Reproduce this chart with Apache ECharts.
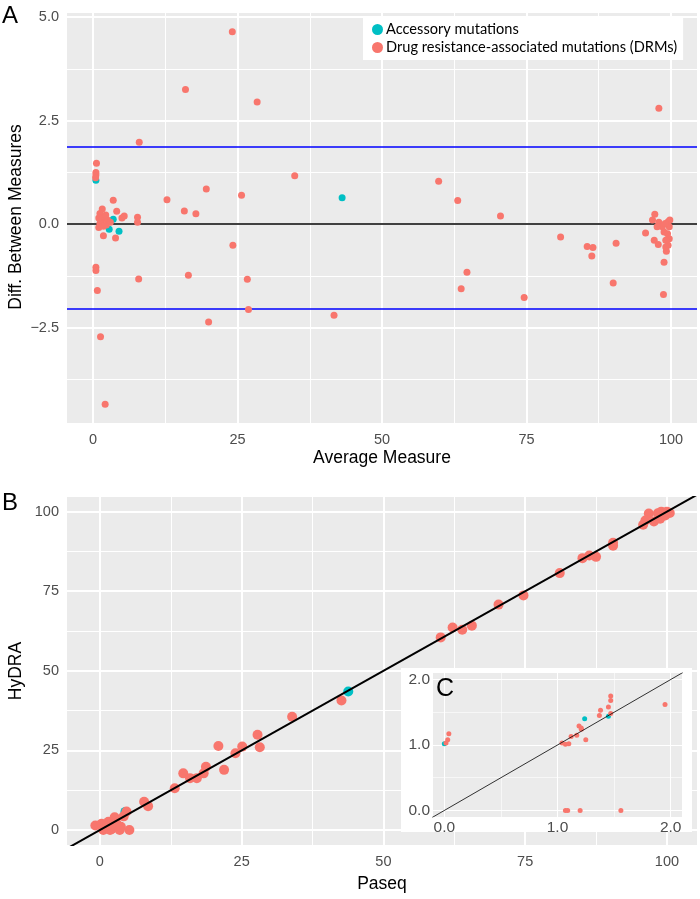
<!DOCTYPE html>
<html><head><meta charset="utf-8">
<script src="https://cdn.jsdelivr.net/npm/echarts@6/dist/echarts.min.js"></script>
<style>html,body{margin:0;padding:0;background:#fff}#c{width:700px;height:899px}</style>
</head><body><div id="c"></div>
<script>
// ---------- DATA ----------
const seriesNames = ['Accessory mutations', 'Drug resistance-associated mutations (DRMs)'];
const colAcc = '#00BFC4', colDrm = '#F8766D';

// Panel A: Bland-Altman (average vs difference)
const aAccX = [0.5, 3.5, 4.5, 2.8, 43.1];
const aAccY = [1.06, 0.12, -0.17, -0.12, 0.64];
const aDrmX = [24.1, 16.0, 28.4, 8.0, 0.6, 0.5, 0.5, 0.45, 34.9, 25.7, 19.6, 12.8, 15.8, 17.8, 3.5, 4.1, 5.4, 5.0, 7.7, 7.7,
  1.6, 1.2, 1.0, 1.5, 2.0, 2.5, 1.2, 1.8, 2.3, 3.0, 1.0, 2.2, 1.8, 3.9, 24.2, 0.5, 0.5, 7.9, 16.5, 26.7,
  0.75, 26.9, 41.7, 20.0, 1.3, 2.1, 97.9, 59.8, 63.1, 70.5, 97.2, 80.9, 85.5, 86.5, 86.3, 90.5, 64.7, 63.7, 74.6, 90.0,
  98.7, 98.8, 95.6, 97.1, 97.8, 96.8, 97.9, 99.5, 99.7, 99.4, 99.7, 99.5, 99.2, 98.5, 97.6, 98.8, 99.1, 99.1, 99.8, 99.0];
const aDrmY = [4.65, 3.25, 2.95, 1.98, 1.47, 1.25, 1.19, 1.12, 1.17, 0.70, 0.85, 0.59, 0.32, 0.25, 0.58, 0.31, 0.20, 0.15, 0.17, 0.05,
  0.37, 0.26, 0.15, 0.10, 0.18, 0.10, 0.02, -0.05, -0.02, 0.05, -0.08, 0.22, -0.28, -0.33, -0.51, -1.04, -1.12, -1.32, -1.23, -1.33,
  -1.60, -2.06, -2.20, -2.36, -2.72, -4.35, 2.80, 1.04, 0.57, 0.20, 0.24, -0.31, -0.54, -0.56, -0.77, -0.46, -1.16, -1.56, -1.77, -1.42,
  -1.70, -0.92, -0.21, -0.39, -0.49, 0.10, 0.05, 0.06, -0.06, -0.23, -0.35, -0.51, -0.65, -0.06, -0.06, -0.19, -0.39, -0.55, 0.10, 0.02];
const aMeanLine = 0;
const aLimitLines = [1.86, -2.05];

// Panel B: Paseq vs HyDRA
const bAccX = [43.8, 4.5];
const bAccY = [43.5, 5.7];
const bDrmX = [-0.8, 0.3, 0.6, 1.5, 1.8, 2.1, 2.6, 2.9, 3.5, 3.7, 4.2, 4.7, 5.2, 1.2, 7.8, 8.5,
  13.2, 14.7, 15.9, 17.1, 18.3, 18.7, 20.9, 21.9, 23.9, 25.1, 27.8, 28.2, 33.9, 42.6,
  60.1, 62.2, 63.9, 65.6, 70.3, 74.7, 81.1, 85.1, 86.3, 87.5, 90.5, 90.5, 95.8, 96.8, 97.7, 98.4, 99.0, 99.5, 100.0, 100.5, 98.8, 99.7, 96.2];
const bDrmY = [1.4, 2.0, 0, 2.6, 0, 0.3, 4.0, 2.1, 0, 1.0, 4.3, 5.8, 0, 1.2, 8.9, 7.5,
  13.1, 17.8, 16.3, 16.3, 17.8, 19.9, 26.4, 18.9, 24.1, 26.2, 29.9, 26.0, 35.6, 40.7,
  60.5, 63.6, 62.9, 64.2, 70.8, 73.7, 80.7, 85.4, 86.2, 85.8, 90.2, 89.3, 95.9, 99.4, 96.9, 99.5, 100.0, 99.3, 100.0, 99.6, 97.8, 98.8, 97.2];

// Panel C: inset, low range zoom
const cAccX = [0.0, 1.24, 1.45];
const cAccY = [1.02, 1.40, 1.44];
const cDrmX = [0.015, 0.03, 0.04, 1.04, 1.07, 1.10, 1.12, 1.17, 1.19, 1.21, 1.21, 1.25, 1.37, 1.38, 1.45, 1.47, 1.47, 1.47, 1.95, 1.07, 1.09, 1.20, 1.56];
const cDrmY = [1.03, 1.08, 1.17, 1.03, 1.01, 1.02, 1.13, 1.15, 1.29, 1.24, 1.26, 1.08, 1.45, 1.53, 1.58, 1.68, 1.75, 1.48, 1.62, 0, 0, 0, 0];

// Tick values
const aXTicks = [0, 25, 50, 75, 100];
const aXMinor = [12.5, 37.5, 62.5, 87.5];
const aYTicks = [-2.5, 0, 2.5, 5.0];
const aYMinor = [-3.75, -1.25, 1.25, 3.75];
const bXTicks = [0, 25, 50, 75, 100];
const bXMinor = [12.5, 37.5, 62.5, 87.5];
const bYTicks = [0, 25, 50, 75, 100];
const bYMinor = [12.5, 37.5, 62.5, 87.5];
const cTicks = [0, 1, 2];
const cMinor = [0.5, 1.5];

// ---------- CHART ----------
const zip = (xs, ys) => xs.map((x, i) => [x, ys[i]]);
const FONT = 'Liberation Sans';
const minus = v => String(v).replace('-', '\u2212');

function gridLines(idx, xMaj, xMin, yMaj, yMin, majW, minW, zl) {
  const d = [];
  xMin.forEach(v => d.push({ xAxis: v, lineStyle: { width: minW } }));
  yMin.forEach(v => d.push({ yAxis: v, lineStyle: { width: minW } }));
  xMaj.forEach(v => d.push({ xAxis: v, lineStyle: { width: majW } }));
  yMaj.forEach(v => d.push({ yAxis: v, lineStyle: { width: majW } }));
  return {
    type: 'scatter', xAxisIndex: idx, yAxisIndex: idx, data: [[xMaj[0], yMaj[0]]], symbolSize: 0,
    silent: true, z: 1, zlevel: zl || 0,
    markLine: { silent: true, symbol: 'none', label: { show: false }, animation: false, z: 1, zlevel: zl || 0,
      lineStyle: { color: '#FFFFFF', type: 'solid' }, data: d }
  };
}

function axis(idx, min, max, ticks, fmt, opts) {
  opts = opts || {};
  return {
    gridIndex: idx, type: 'value', min: min, max: max, zlevel: opts.zlevel || 0,
    axisLine: { show: false }, splitLine: { show: false },
    axisTick: { show: opts.tick !== false, customValues: ticks, length: 4, lineStyle: { color: '#333333', width: 1 } },
    axisLabel: { customValues: ticks, color: '#4D4D4D', fontSize: opts.fs || 14.5, fontFamily: FONT,
      margin: opts.margin || 8, formatter: fmt }
  };
}
const fmt1 = v => minus(Number(v).toFixed(1));
const fmt0 = v => minus(Math.round(v));

const scatter = (name, idx, data, color, size, zl) => ({
  name: name, type: 'scatter', xAxisIndex: idx, yAxisIndex: idx, data: data, symbolSize: size,
  itemStyle: { color: color, opacity: 1 }, z: 3, zlevel: zl || 0, animation: false
});

const chart = echarts.init(document.getElementById('c'), null, { renderer: 'canvas' });
chart.setOption({
  animation: false,
  backgroundColor: '#FFFFFF',
  grid: [
    { left: 67, top: 13, width: 630, height: 410, show: true, backgroundColor: '#EBEBEB', borderWidth: 0 },
    { left: 67, top: 497, width: 630, height: 348, show: true, backgroundColor: '#EBEBEB', borderWidth: 0 },
    { left: 433, top: 673, width: 249, height: 144, show: true, backgroundColor: '#EBEBEB', borderWidth: 0, zlevel: 2 }
  ],
  xAxis: [
    axis(0, -4.5, 104.5, aXTicks, fmt0, { margin: 9 }),
    axis(1, -5.8, 105.3, bXTicks, fmt0, { margin: 9 }),
    axis(2, -0.1, 2.1, cTicks, fmt1, { tick: false, fs: 15.5, margin: 3, zlevel: 2 })
  ],
  yAxis: [
    axis(0, -4.8, 5.1, aYTicks, fmt1),
    axis(1, -4.7, 104.6, bYTicks, fmt0),
    axis(2, -0.1, 2.1, cTicks, fmt1, { tick: false, fs: 15.5, margin: 3, zlevel: 2 })
  ],
  legend: {
    data: seriesNames, orient: 'vertical', left: 363, top: 17, backgroundColor: '#FFFFFF',
    padding: [5, 6, 5, 9], itemGap: 3, itemWidth: 11, itemHeight: 11, icon: 'circle', selectedMode: false,
    textStyle: { fontFamily: 'Lato', fontSize: 14.6, color: '#000000', padding: [0, 0, 0, -2] }
  },
  graphic: [
    { type: 'rect', zlevel: 1, shape: { x: 401, y: 668, width: 291, height: 164 }, style: { fill: '#FFFFFF' }, silent: true },
    { type: 'text', left: 2, top: 4, style: { text: 'A', font: '24px Liberation Sans', fill: '#000' } },
    { type: 'text', left: 2, top: 491, style: { text: 'B', font: '24px Liberation Sans', fill: '#000' } },
    { type: 'text', zlevel: 2, z: 10, left: 436, top: 677, style: { text: 'C', font: '25px Liberation Sans', fill: '#000' } },
    { type: 'text', x: 16, y: 217, rotation: Math.PI / 2,
      style: { text: 'Diff. Between Measures', font: '17.5px Liberation Sans', fill: '#000', align: 'center', verticalAlign: 'middle' } },
    { type: 'text', x: 382, y: 458,
      style: { text: 'Average Measure', font: '17.5px Liberation Sans', fill: '#000', align: 'center', verticalAlign: 'middle' } },
    { type: 'text', x: 16, y: 671, rotation: Math.PI / 2,
      style: { text: 'HyDRA', font: '17.5px Liberation Sans', fill: '#000', align: 'center', verticalAlign: 'middle' } },
    { type: 'text', x: 382, y: 884,
      style: { text: 'Paseq', font: '17.5px Liberation Sans', fill: '#000', align: 'center', verticalAlign: 'middle' } }
  ],
  series: [
    gridLines(0, aXTicks, aXMinor, aYTicks, aYMinor, 2, 1),
    gridLines(1, bXTicks, bXMinor, bYTicks, bYMinor, 2, 1),
    gridLines(2, cTicks, cMinor, cTicks, cMinor, 1, 0.6, 2),
    // Panel A reference lines
    {
      type: 'scatter', xAxisIndex: 0, yAxisIndex: 0, data: [[0, 0]], symbolSize: 0, silent: true, z: 2,
      markLine: { silent: true, symbol: 'none', label: { show: false }, animation: false, z: 2,
        data: [
          { yAxis: aMeanLine, lineStyle: { color: '#000000', width: 1.5, type: 'solid' } },
          { yAxis: aLimitLines[0], lineStyle: { color: '#0000FF', width: 1.5, type: 'solid' } },
          { yAxis: aLimitLines[1], lineStyle: { color: '#0000FF', width: 1.5, type: 'solid' } }
        ] }
    },
    scatter(seriesNames[0], 0, zip(aAccX, aAccY), colAcc, 7),
    scatter(seriesNames[1], 0, zip(aDrmX, aDrmY), colDrm, 7),
    scatter(seriesNames[0], 1, zip(bAccX, bAccY), colAcc, 10),
    scatter(seriesNames[1], 1, zip(bDrmX, bDrmY), colDrm, 10),
    { type: 'line', xAxisIndex: 1, yAxisIndex: 1, data: [[-10, -10], [110, 110]], showSymbol: false, silent: true,
      clip: true, z: 4, lineStyle: { color: '#000000', width: 2 } },
    scatter(seriesNames[0], 2, zip(cAccX, cAccY), colAcc, 5, 2),
    scatter(seriesNames[1], 2, zip(cDrmX, cDrmY), colDrm, 5, 2),
    { type: 'line', xAxisIndex: 2, yAxisIndex: 2, zlevel: 2, data: [[-0.2, -0.2], [2.2, 2.2]], showSymbol: false, silent: true,
      clip: true, z: 4, lineStyle: { color: '#000000', width: 0.8 } }
  ]
});
</script>
</body></html>
